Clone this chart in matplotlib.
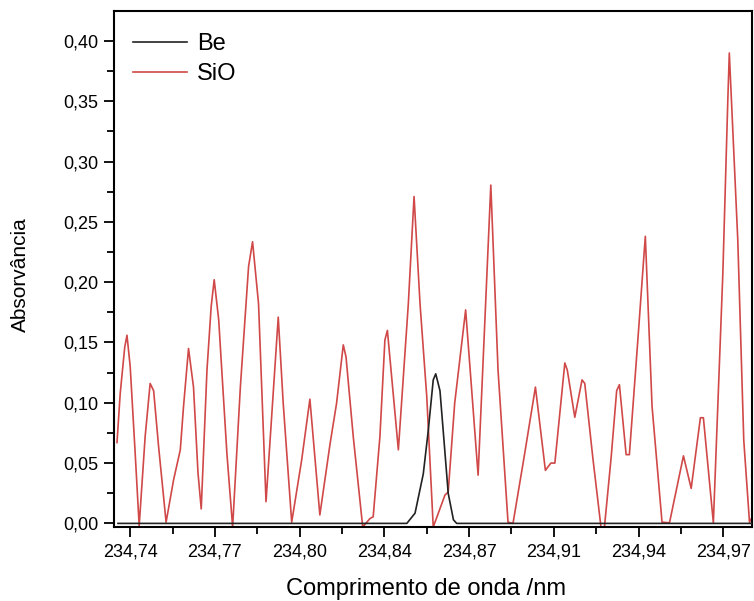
import matplotlib
matplotlib.use("Agg")
import matplotlib.pyplot as plt
from matplotlib.ticker import FixedLocator, MultipleLocator

plt.rcParams['font.family'] = ['Liberation Sans', 'DejaVu Sans']

# SiO spectrum (wavelength nm, absorbance)
sio_wl = [234.7307, 234.7320, 234.7338, 234.7347, 234.7360, 234.7380, 234.7396,
          234.7420, 234.7440, 234.7454, 234.7474, 234.7504,
          234.7534, 234.7561, 234.7574, 234.7594, 234.7614, 234.7632, 234.7645,
          234.7668, 234.7685, 234.7697, 234.7715, 234.7748, 234.7771,
          234.7802, 234.7835, 234.7851, 234.7875, 234.7905,
          234.7954, 234.7974, 234.8008,
          234.8048, 234.8081, 234.8121, 234.8162, 234.8188, 234.8215, 234.8226,
          234.8255, 234.8293, 234.8322, 234.8335, 234.8362, 234.8382, 234.8392,
          234.8436, 234.8476, 234.8499, 234.8523, 234.8550, 234.8576, 234.8623,
          234.8636, 234.8662, 234.8706, 234.8756, 234.8807, 234.8836, 234.8876,
          234.8896, 234.8943, 234.8986, 234.9026, 234.9048, 234.9064, 234.9104,
          234.9114, 234.9144, 234.9173, 234.9184, 234.9216, 234.9249, 234.9263,
          234.9290, 234.9312, 234.9323, 234.9350, 234.9363, 234.9397, 234.9421,
          234.9427, 234.9454, 234.9494, 234.9524, 234.9580, 234.9611, 234.9648,
          234.9660, 234.9700, 234.9738, 234.9758, 234.9764, 234.9798, 234.9822,
          234.9845, 234.9853]
sio_abs = [0.067, 0.108, 0.146, 0.156, 0.130, 0.058, -0.002,
           0.072, 0.116, 0.110, 0.0635, 0.001,
           0.036, 0.061, 0.097, 0.145, 0.113, 0.042, 0.012,
           0.127, 0.180, 0.202, 0.169, 0.058, -0.003,
           0.113, 0.213, 0.2335, 0.182, 0.018,
           0.171, 0.0995, 0.001,
           0.0525, 0.103, 0.007, 0.066, 0.0995, 0.148, 0.138,
           0.072, -0.003, 0.004, 0.0055, 0.072, 0.152, 0.160,
           0.061, 0.182, 0.271, 0.182, 0.105, -0.003, 0.0235,
           0.026, 0.0995, 0.177, 0.040, 0.2805, 0.127, 0.001,
           0.000, 0.058, 0.113, 0.044, 0.050, 0.050, 0.133,
           0.127, 0.088, 0.119, 0.116, 0.055, -0.003, -0.003,
           0.055, 0.110, 0.115, 0.057, 0.057, 0.152, 0.221,
           0.238, 0.097, 0.001, 0.0005, 0.056, 0.029, 0.0876,
           0.0876, 0.0005, 0.207, 0.351, 0.390, 0.235, 0.069,
           0.001, 0.004]

# Be line profile
be_wl = [234.7311, 234.8470, 234.8503, 234.8536, 234.8556, 234.8576, 234.8586,
         234.8603, 234.8619, 234.8636, 234.8657, 234.8670, 234.9856]
be_abs = [0.0, 0.0, 0.0085, 0.041, 0.077, 0.119, 0.124,
          0.110, 0.069, 0.025, 0.003, 0.0, 0.0]

x_ticks = [234.736, 234.770, 234.804, 234.838, 234.872, 234.906, 234.940, 234.974]
x_labels = ["234,74", "234,77", "234,80", "234,84", "234,87", "234,91", "234,94", "234,97"]
y_ticks = [0.00, 0.05, 0.10, 0.15, 0.20, 0.25, 0.30, 0.35, 0.40]
y_labels = ["0,00", "0,05", "0,10", "0,15", "0,20", "0,25", "0,30", "0,35", "0,40"]

fig = plt.figure(figsize=(7.54, 6.01), dpi=100)
ax = fig.add_axes([0.1512, 0.1231, 0.997 - 0.1512, 0.9817 - 0.1231])

ax.plot(be_wl, be_abs, color='#222222', lw=1.2, label='Be', zorder=3)
ax.plot(sio_wl, sio_abs, color='#d04848', lw=1.2, label='SiO', zorder=2)

ax.set_xlim(234.7295, 234.9854)
ax.set_ylim(-0.003, 0.4248)

ax.xaxis.set_major_locator(FixedLocator(x_ticks))
ax.set_xticklabels(x_labels)
ax.xaxis.set_minor_locator(FixedLocator([t + 0.017 for t in x_ticks]))
ax.yaxis.set_major_locator(FixedLocator(y_ticks))
ax.set_yticklabels(y_labels)
ax.yaxis.set_minor_locator(MultipleLocator(0.025))

ax.tick_params(axis='both', which='major', direction='out', length=7, width=1.3,
               labelsize=13, colors='black')
ax.tick_params(axis='both', which='minor', direction='out', length=5, width=1.3)
ax.tick_params(axis='x', pad=5)
ax.tick_params(axis='y', pad=4)

for s in ax.spines.values():
    s.set_linewidth(1.5)

ax.set_xlabel('Comprimento de onda /nm', fontsize=17, va='top')
ax.xaxis.set_label_coords(0.49, -0.099)
ax.set_ylabel('Absorvância', fontsize=15)
ax.yaxis.set_label_coords(-0.132, 0.49)

ax.legend(loc='upper left', bbox_to_anchor=(0.0298, 0.957), frameon=False,
          fontsize=17, handlelength=2.3, handletextpad=0.42, labelspacing=0.35,
          borderaxespad=0, borderpad=0)

fig.savefig('out.png', dpi=100)
